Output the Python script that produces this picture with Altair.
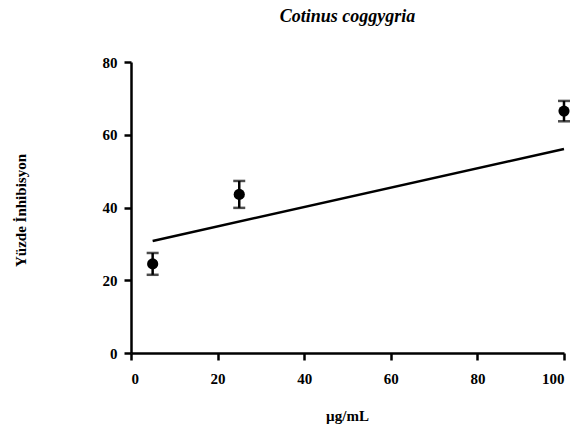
import altair as alt
import pandas as pd

conc = [5, 25, 100]
mean_inh = [24.5, 43.6, 66.5]
err = [3.0, 3.7, 2.8]

fit_x = [5, 100]
fit_y = [30.8, 56.1]

pts = pd.DataFrame({"x": conc, "y": mean_inh,
                    "lo": [m - e for m, e in zip(mean_inh, err)],
                    "hi": [m + e for m, e in zip(mean_inh, err)]})
fit = pd.DataFrame({"x": fit_x, "y": fit_y})

FONT = "Liberation Serif"

xs = alt.Scale(domain=[0, 100], nice=False, zero=True)
ys = alt.Scale(domain=[0, 80], nice=False, zero=True)

xaxis = alt.Axis(values=[0, 20, 40, 60, 80, 100], title="µg/mL", labelPadding=11,
                 titleBaseline="middle", titleX=216, titleY=62)
yaxis = alt.Axis(values=[0, 20, 40, 60, 80], title="Yüzde İnhibisyon", labelPadding=7,
                 titleBaseline="middle", titleX=-111, titleY=148, titleAngle=270)

line = alt.Chart(fit).mark_line(color="black", strokeWidth=2.5).encode(
    x=alt.X("x:Q", scale=xs, axis=xaxis),
    y=alt.Y("y:Q", scale=ys, axis=yaxis))

base = alt.Chart(pts)
bars = base.mark_rule(color="black", strokeWidth=2.5).encode(
    x=alt.X("x:Q", scale=xs, axis=xaxis),
    y=alt.Y("lo:Q", scale=ys, axis=yaxis),
    y2="hi:Q")
caps_hi = base.mark_tick(color="black", thickness=2.5, size=12, orient="horizontal").encode(
    x=alt.X("x:Q", scale=xs, axis=xaxis), y=alt.Y("hi:Q", scale=ys, axis=yaxis))
caps_lo = base.mark_tick(color="black", thickness=2.5, size=12, orient="horizontal").encode(
    x=alt.X("x:Q", scale=xs, axis=xaxis), y=alt.Y("lo:Q", scale=ys, axis=yaxis))
dots = base.mark_circle(color="black", size=125, opacity=1).encode(
    x=alt.X("x:Q", scale=xs, axis=xaxis), y=alt.Y("y:Q", scale=ys, axis=yaxis))

chart = alt.layer(line, bars, caps_hi, caps_lo, dots).properties(
    width=433, height=291,
    title=alt.TitleParams("Cotinus coggygria", font=FONT, fontSize=18, fontWeight="bold",
                          fontStyle="italic", color="black", anchor="middle", offset=29),
    autosize=alt.AutoSizeParams(type="none"),
    padding={"left": 131, "top": 62, "right": 16, "bottom": 77},
    background="white",
).configure_view(stroke=None).configure_axis(
    domainWidth=2.5, tickWidth=2.5, tickSize=7, domainColor="black", tickColor="black",
    labelFont=FONT, labelFontSize=15, labelFontWeight="bold", labelColor="black",
    grid=False,
    titleFont=FONT, titleFontSize=15, titleFontWeight="bold", titleColor="black",
)

chart.save("out.html", embed_options={"renderer": "svg", "actions": False})
